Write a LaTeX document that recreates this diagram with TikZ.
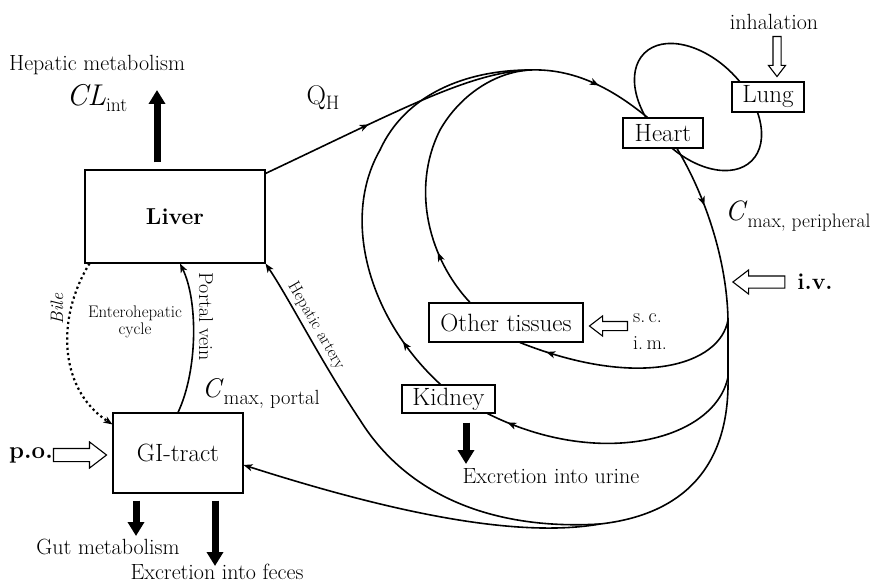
\documentclass[tikz,border=0pt]{standalone}
\usetikzlibrary{arrows.meta,calc,decorations.markings,shapes.arrows}
\newcommand{\mysub}[2]{\raisebox{#1}{\fontsize{19.5}{22}\selectfont #2}}
\tikzset{
  box/.style={draw, line width=1.1pt, fill=white, inner sep=0pt, font=\fontsize{25}{28}\selectfont},
  ann/.style={inner sep=0pt, font=\fontsize{22}{25}\selectfont},
  small/.style={inner sep=0pt, font=\fontsize{16.8}{19}\selectfont},
  flow/.style={line width=1.6pt},
  tipend/.style={-{Stealth[length=9pt,width=7pt,inset=2.5pt]}},
  midarrow/.style={postaction={decorate}, decoration={markings,
     mark=at position #1 with {\arrow{Stealth[length=9pt,width=7pt,inset=2.5pt]}}}},
  bigarrow/.style={line width=7pt, -{Triangle[length=14pt,width=16pt]}},
  openarr/.style={single arrow, draw, line width=1.1pt, fill=white, inner xsep=0pt, single arrow tip angle=75},
}
\begin{document}
\begin{tikzpicture}[x=1pt,y=-1pt]
\useasboundingbox (0,0) rectangle (883,583);

% lung-heart loop
\draw[flow] (698,107) ellipse [x radius=76, y radius=48, rotate=-45];

% boxes
\node[box, minimum width=180pt, minimum height=93pt, font=\fontsize{23}{26}\selectfont\bfseries] (liver) at (175,216.5) {Liver};
\node[box, minimum width=130pt, minimum height=80pt] (gi) at (178,453) {GI-tract};
\node[box, minimum width=80pt, minimum height=30pt] (heart) at (663,133) {Heart};
\node[box, minimum width=72pt, minimum height=30pt] (lung) at (768,97) {Lung};
\node[box, minimum width=154pt, minimum height=39pt] (other) at (506,322.5) {Other tissues};
\node[box, minimum width=93pt, minimum height=28pt] (kidney) at (448.5,399) {Kidney};

% junction coordinates
\coordinate (J) at (530,70);
\coordinate (R1) at (728,320);
\coordinate (R2) at (728,377);
\coordinate (B) at (600,524);

% liver to top, top to heart
\draw[flow, midarrow=0.4] ($(liver.north east)+(0,4)$) .. controls (400,110) and (470,72) .. (J);
\draw[flow, midarrow=0.55] (J) .. controls (580,68) and (620,95) .. ($(heart.north west)+(25,0)$);
% heart down the right side
\draw[flow, midarrow=0.35] ($(heart.south)+(14,0)$) .. controls (705,195) and (727,260) .. (R1);
\draw[flow] (R1) -- (R2) .. controls (730,470) and (680,515) .. (B);
% branches
\draw[flow, midarrow=0.88] (R1) .. controls (720,365) and (640,390) .. ($(other.south)+(14,0)$);
\draw[flow, midarrow=0.92] (R2) .. controls (715,440) and (600,470) .. ($(kidney.south east)+(-8,0)$);
\draw[flow, tipend] (B) .. controls (500,530) and (410,500) .. (360,420) .. controls (320,360) and (290,300) .. (liver.south east);
\draw[flow, tipend] (B) .. controls (520,538) and (400,515) .. ($(gi.east)+(0,12)$);
% return loops
\draw[flow, midarrow=0.13] ($(kidney.north)+(-8,0)$) .. controls (370,320) and (340,220) .. (380,150) .. controls (405,95) and (465,70) .. (J);
\draw[flow, midarrow=0.2] ($(other.north)+(-36,0)$) .. controls (430,260) and (410,190) .. (440,130) .. controls (460,95) and (495,72) .. (J);
% portal vein and bile
\draw[flow, tipend] (gi.north) .. controls (198,370) and (198,300) .. ($(liver.south)+(5,0)$);
\draw[line width=2.2pt, dash pattern=on 2.2pt off 3pt, -{Stealth[length=9pt,width=7pt,inset=2.5pt]}]
   ($(liver.south west)+(5,0)$) .. controls (55,320) and (60,390) .. ($(gi.north west)+(0,12)$);

% thick elimination arrows
\coordinate (cltip) at (157,90);
\draw[bigarrow] ($(liver.north)+(-18,-7)$) -- (cltip);
\coordinate (guttip) at (136,536);
\draw[bigarrow] ($(gi.south)+(-42,7)$) -- (guttip);
\coordinate (fectip) at (215,566);
\draw[bigarrow] ($(gi.south)+(37,7)$) -- (fectip);
\coordinate (urtip) at (466,464);
\draw[bigarrow] ($(kidney.south)+(17.5,9)$) -- (urtip);

% open dosing arrows
\node[openarr, inner ysep=3.5pt, single arrow head extend=4.5pt, minimum height=40pt, rotate=-90, anchor=tip] (inharr) at ($(lung.north)+(9,-4)$) {};
\node[openarr, inner ysep=5.5pt, single arrow head extend=6pt, minimum height=52pt, rotate=180, anchor=tip] (ivarr) at (732,282) {};
\node[openarr, inner ysep=4pt, single arrow head extend=5.5pt, minimum height=38pt, rotate=180, anchor=tip] (scarr) at ($(other.east)+(5,3.5)$) {};
\node[openarr, inner ysep=6pt, single arrow head extend=6.5pt, minimum height=53pt, anchor=tip] (poarr) at ($(gi.west)+(-5,2)$) {};

% labels
\node[ann] (hepmet) at (97,65) {Hepatic metabolism};
\node[inner sep=0pt, font=\fontsize{30}{34}\selectfont] (clint) at (97,98) {\textit{CL}\mysub{-6pt}{int}};
\node[inner sep=0pt, font=\fontsize{27}{30}\selectfont] (qh) at (323,98) {Q\mysub{-5pt}{H}};
\node[ann] (inh) at (774,22) {inhalation};
\node[inner sep=0pt, anchor=base west, font=\fontsize{28}{32}\selectfont] (cperi) at (725,220) {\textit{C}\mysub{-7pt}{max, peripheral}};
\node[inner sep=0pt, anchor=base west, font=\fontsize{27}{32}\selectfont] (cport) at (202,397) {\textit{C}\mysub{-7pt}{\fontsize{20.5}{22}\selectfont max, portal}};
\node[inner sep=0pt, font=\fontsize{23}{26}\selectfont\bfseries] (iv) at (815,282) {i.v.};
\node[inner sep=0pt, font=\fontsize{24}{26}\selectfont\bfseries] (po) at (31,455) {p.o.};
\node[inner sep=0pt, anchor=west, font=\fontsize{20}{22}\selectfont] (sc) at (633,318) {s.\,c.};
\node[inner sep=0pt, anchor=west, font=\fontsize{20}{22}\selectfont] (im) at (633,343) {i.\,m.};
\node[ann] (urine) at (551,476) {Excretion into urine};
\node[ann] (gut) at (108,547) {Gut metabolism};
\node[ann] (feces) at (217,572) {Excretion into feces};
\node[small, align=center] (entero) at (135,322) {Enterohepatic\\[-2pt]cycle};
\node[inner sep=0pt, rotate=-90, font=\fontsize{20}{22}\selectfont] (portal) at (206,317) {Portal vein};
\node[inner sep=0pt, rotate=-60, font=\fontsize{17}{19}\selectfont] (hepart) at (316,326) {Hepatic artery};
\node[inner sep=0pt, rotate=90, font=\fontsize{18}{20}\selectfont\itshape] (bile) at (57,309) {Bile};
\end{tikzpicture}
\end{document}
